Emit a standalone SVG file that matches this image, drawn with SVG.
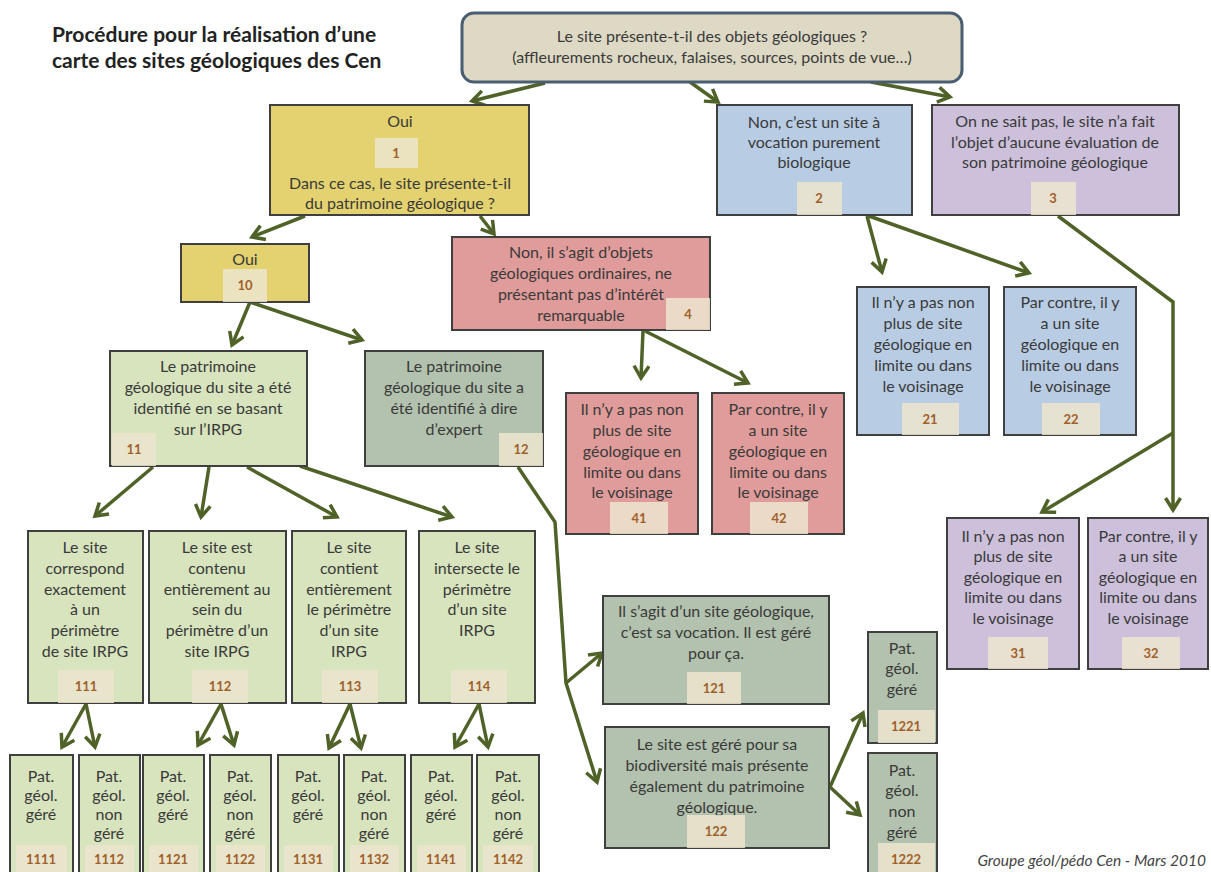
<svg xmlns="http://www.w3.org/2000/svg" width="1211" height="872" viewBox="0 0 1211 872">
<style>
.n{stroke:#3f3f3f;stroke-width:2}
.y{fill:#e3d26f}.r{fill:#e09c9a}.b{fill:#b8cce4}.p{fill:#ccc0da}.g{fill:#d7e4bd}.s{fill:#b3c2ae}
.nb{fill:#ece5cf;opacity:0.85}
text{font-family:Lato,"Open Sans","Liberation Sans",sans-serif}
.t{font-size:16px;fill:#3a3a3a;text-anchor:middle}
.num{font-size:13px;font-weight:bold;fill:#a0602a;text-anchor:middle}
.c{fill:none;stroke:#4f6228;stroke-width:3.5;marker-end:url(#ah)}
</style>
<defs>
<marker id="ah" markerUnits="userSpaceOnUse" markerWidth="22" markerHeight="18" viewBox="0 0 22 18" refX="14" refY="9" orient="auto">
<path d="M2,1.5 L14,9 L2,16.5" fill="none" stroke="#4f6228" stroke-width="3.5"/>
</marker>
</defs>
<rect width="1211" height="872" fill="#ffffff"/>
<g id="title">
<text x="52" y="42" style="font-size:21px;font-weight:bold;fill:#222">Procédure pour la réalisation d’une</text>
<text x="52" y="68" style="font-size:21px;font-weight:bold;fill:#222">carte des sites géologiques des Cen</text>
</g>
<g id="connectors">
<path class="c" d="M545,83 L472,101"/>
<path class="c" d="M690,82 L718,102"/>
<path class="c" d="M871,82 L950,97"/>
<path class="c" d="M305,216 L252,237"/>
<path class="c" d="M480,216 L494,234"/>
<path class="c" d="M250,302 L232,345"/>
<path class="c" d="M250,302 L362,340"/>
<path class="c" d="M867,216 L882,272"/>
<path class="c" d="M869,216 L1029,273"/>
<path class="c" d="M1058,216 L1173,302 L1173,510"/>
<path class="c" d="M1173,433 L1042,512"/>
<path class="c" d="M643,331 L641,378"/>
<path class="c" d="M645,331 L748,383"/>
<path class="c" d="M153,467 L95,516"/>
<path class="c" d="M209,467 L201,517"/>
<path class="c" d="M247,467 L337,517"/>
<path class="c" d="M300,466 L452,517"/>
<path class="c" d="M518,467 L555,522 L566,683 L597,782"/>
<path class="c" d="M566,683 L602,653"/>
<path class="c" d="M830,787 L863,713"/>
<path class="c" d="M830,787 L860,815"/>
<path class="c" d="M86,704 L62,747"/>
<path class="c" d="M86,704 L95,747"/>
<path class="c" d="M221,704 L198,745"/>
<path class="c" d="M221,704 L234,745"/>
<path class="c" d="M350,704 L329,748"/>
<path class="c" d="M350,704 L361,748"/>
<path class="c" d="M479,704 L455,747"/>
<path class="c" d="M479,704 L488,747"/>
</g>
<g id="top">
<rect x="462" y="13" width="500" height="69" rx="12" fill="#ddd9c4" stroke="#4a5e72" stroke-width="3"/>
<text class="t" x="712" y="42">Le site présente-t-il des objets géologiques ?</text>
<text class="t" x="712" y="63">(affleurements rocheux, falaises, sources, points de vue…)</text>
</g>
<g id="n1">
<rect class="n y" x="270" y="105" width="259" height="110"/>
<text class="t" x="400" y="127">Oui</text>
<rect class="nb" x="375" y="138" width="43" height="30"/>
<text class="num" x="396" y="158">1</text>
<text class="t" x="400" y="189">Dans ce cas, le site présente-t-il</text>
<text class="t" x="400" y="209">du patrimoine géologique ?</text>
</g>
<g id="n2">
<rect class="n b" x="717" y="105" width="195" height="110"/>
<text class="t" x="814" y="128">Non, c’est un site à</text>
<text class="t" x="814" y="148">vocation purement</text>
<text class="t" x="814" y="168">biologique</text>
<rect class="nb" x="797" y="182" width="45" height="33"/>
<text class="num" x="819" y="203">2</text>
</g>
<g id="n3">
<rect class="n p" x="932" y="105" width="247" height="110"/>
<text class="t" x="1055" y="127">On ne sait pas, le site n’a fait</text>
<text class="t" x="1055" y="148">l’objet d’aucune évaluation de</text>
<text class="t" x="1055" y="168">son patrimoine géologique</text>
<rect class="nb" x="1031" y="182" width="45" height="33"/>
<text class="num" x="1053" y="203">3</text>
</g>
<g id="n10">
<rect class="n y" x="181" y="244" width="128" height="58"/>
<text class="t" x="245" y="265">Oui</text>
<rect class="nb" x="223" y="269" width="44" height="33"/>
<text class="num" x="245" y="290">10</text>
</g>
<g id="n4">
<rect class="n r" x="452" y="237" width="258" height="93"/>
<rect class="nb" x="666" y="298" width="44" height="32"/>
<text class="t" x="581" y="258">Non, il s’agit d’objets</text>
<text class="t" x="581" y="279">géologiques ordinaires, ne</text>
<text class="t" x="581" y="300">présentant pas d’intérêt</text>
<text class="t" x="581" y="321">remarquable</text>
<text class="num" x="688" y="319">4</text>
</g>
<g id="n11">
<rect class="n g" x="110" y="351" width="197" height="115"/>
<text class="t" x="208" y="372">Le patrimoine</text>
<text class="t" x="208" y="393">géologique du site a été</text>
<text class="t" x="208" y="414">identifié en se basant</text>
<text class="t" x="208" y="435">sur l’IRPG</text>
<rect class="nb" x="112" y="433" width="44" height="33"/>
<text class="num" x="134" y="454">11</text>
</g>
<g id="n12">
<rect class="n s" x="365" y="351" width="178" height="115"/>
<text class="t" x="454" y="372">Le patrimoine</text>
<text class="t" x="454" y="393">géologique du site a</text>
<text class="t" x="454" y="414">été identifié à dire</text>
<text class="t" x="454" y="435">d’expert</text>
<rect class="nb" x="499" y="433" width="44" height="33"/>
<text class="num" x="521" y="454">12</text>
</g>
<g id="n21">
<rect class="n b" x="857" y="287" width="132" height="148"/>
<text class="t" x="923" y="308">Il n’y a pas non</text>
<text class="t" x="923" y="329">plus de site</text>
<text class="t" x="923" y="350">géologique en</text>
<text class="t" x="923" y="371">limite  ou dans</text>
<text class="t" x="923" y="392">le voisinage</text>
<rect class="nb" x="902" y="403" width="57" height="32"/>
<text class="num" x="930" y="424">21</text>
</g>
<g id="n22">
<rect class="n b" x="1004" y="287" width="132" height="148"/>
<text class="t" x="1070" y="308">Par contre, il y</text>
<text class="t" x="1070" y="329">a un site</text>
<text class="t" x="1070" y="350">géologique en</text>
<text class="t" x="1070" y="371">limite  ou dans</text>
<text class="t" x="1070" y="392">le voisinage</text>
<rect class="nb" x="1042" y="403" width="58" height="32"/>
<text class="num" x="1071" y="424">22</text>
</g>
<g id="n41">
<rect class="n r" x="566" y="393" width="132" height="141"/>
<text class="t" x="632" y="415">Il n’y a pas non</text>
<text class="t" x="632" y="436">plus de site</text>
<text class="t" x="632" y="457">géologique en</text>
<text class="t" x="632" y="478">limite  ou dans</text>
<text class="t" x="632" y="498">le voisinage</text>
<rect class="nb" x="610" y="502" width="58" height="32"/>
<text class="num" x="639" y="523">41</text>
</g>
<g id="n42">
<rect class="n r" x="712" y="393" width="132" height="141"/>
<text class="t" x="778" y="415">Par contre, il y</text>
<text class="t" x="778" y="436">a un site</text>
<text class="t" x="778" y="457">géologique en</text>
<text class="t" x="778" y="478">limite  ou dans</text>
<text class="t" x="778" y="498">le voisinage</text>
<rect class="nb" x="750" y="502" width="58" height="32"/>
<text class="num" x="779" y="523">42</text>
</g>
<g id="n31">
<rect class="n p" x="947" y="518" width="132" height="151"/>
<text class="t" x="1013" y="542">Il n’y a pas non</text>
<text class="t" x="1013" y="562">plus de site</text>
<text class="t" x="1013" y="583">géologique en</text>
<text class="t" x="1013" y="603">limite  ou dans</text>
<text class="t" x="1013" y="624">le voisinage</text>
<rect class="nb" x="988" y="637" width="60" height="32"/>
<text class="num" x="1018" y="658">31</text>
</g>
<g id="n32">
<rect class="n p" x="1088" y="518" width="120" height="151"/>
<text class="t" x="1148" y="542">Par contre, il y</text>
<text class="t" x="1148" y="562">a un site</text>
<text class="t" x="1148" y="583">géologique en</text>
<text class="t" x="1148" y="603">limite  ou dans</text>
<text class="t" x="1148" y="624">le voisinage</text>
<rect class="nb" x="1122" y="637" width="58" height="32"/>
<text class="num" x="1151" y="658">32</text>
</g>
<g id="n111">
<rect class="n g" x="28" y="531" width="115" height="172"/>
<text class="t" x="85" y="553">Le site</text>
<text class="t" x="85" y="574">correspond</text>
<text class="t" x="85" y="595">exactement</text>
<text class="t" x="85" y="615">à un</text>
<text class="t" x="85" y="636">périmètre</text>
<text class="t" x="85" y="657">de site IRPG</text>
<rect class="nb" x="58" y="670" width="56" height="33"/>
<text class="num" x="86" y="691">111</text>
</g>
<g id="n112">
<rect class="n g" x="149" y="531" width="137" height="172"/>
<text class="t" x="217" y="553">Le site est</text>
<text class="t" x="217" y="574">contenu</text>
<text class="t" x="217" y="595">entièrement au</text>
<text class="t" x="217" y="615">sein du</text>
<text class="t" x="217" y="636">périmètre d’un</text>
<text class="t" x="217" y="657">site IRPG</text>
<rect class="nb" x="192" y="670" width="56" height="33"/>
<text class="num" x="220" y="691">112</text>
</g>
<g id="n113">
<rect class="n g" x="292" y="531" width="114" height="172"/>
<text class="t" x="349" y="553">Le site</text>
<text class="t" x="349" y="574">contient</text>
<text class="t" x="349" y="595">entièrement</text>
<text class="t" x="349" y="615">le périmètre</text>
<text class="t" x="349" y="636">d’un site</text>
<text class="t" x="349" y="657">IRPG</text>
<rect class="nb" x="322" y="670" width="56" height="33"/>
<text class="num" x="350" y="691">113</text>
</g>
<g id="n114">
<rect class="n g" x="419" y="531" width="116" height="172"/>
<text class="t" x="477" y="553">Le site</text>
<text class="t" x="477" y="574">intersecte le</text>
<text class="t" x="477" y="595">périmètre</text>
<text class="t" x="477" y="615">d’un site</text>
<text class="t" x="477" y="636">IRPG</text>
<rect class="nb" x="451" y="670" width="56" height="33"/>
<text class="num" x="479" y="691">114</text>
</g>
<g id="n121">
<rect class="n s" x="603" y="596" width="226" height="108"/>
<text class="t" x="716" y="617">Il s’agit d’un site géologique,</text>
<text class="t" x="716" y="638">c’est sa vocation. Il est géré</text>
<text class="t" x="716" y="659">pour ça.</text>
<rect class="nb" x="687" y="672" width="54" height="32"/>
<text class="num" x="714" y="693">121</text>
</g>
<g id="n122">
<rect class="n s" x="605" y="727" width="224" height="121"/>
<text class="t" x="717" y="750">Le site est géré pour sa</text>
<text class="t" x="717" y="771">biodiversité mais présente</text>
<text class="t" x="717" y="792">également du patrimoine</text>
<text class="t" x="717" y="813">géologique.</text>
<rect class="nb" x="687" y="815" width="58" height="33"/>
<text class="num" x="716" y="836">122</text>
</g>
<g id="n1221">
<rect class="n s" x="868" y="632" width="69" height="111"/>
<text class="t" x="902" y="654">Pat.</text>
<text class="t" x="902" y="674">géol.</text>
<text class="t" x="902" y="695">géré</text>
<rect class="nb" x="878" y="710" width="57" height="33"/>
<text class="num" x="906" y="731">1221</text>
</g>
<g id="n1222">
<rect class="n s" x="868" y="753" width="69" height="122"/>
<text class="t" x="902" y="776">Pat.</text>
<text class="t" x="902" y="796">géol.</text>
<text class="t" x="902" y="817">non</text>
<text class="t" x="902" y="838">géré</text>
<rect class="nb" x="878" y="843" width="57" height="32"/>
<text class="num" x="906" y="864">1222</text>
</g>
<g id="n1111">
<rect class="n g" x="10" y="755" width="63" height="120"/>
<text class="t" x="41" y="782">Pat.</text><text class="t" x="41" y="801">géol.</text><text class="t" x="41" y="820">géré</text>
<rect class="nb" x="16" y="845" width="51" height="30"/><text class="num" x="41" y="864">1111</text>
</g>
<g id="n1112">
<rect class="n g" x="79" y="755" width="61" height="120"/>
<text class="t" x="109" y="782">Pat.</text><text class="t" x="109" y="801">géol.</text><text class="t" x="109" y="820">non</text><text class="t" x="109" y="839">géré</text>
<rect class="nb" x="85" y="845" width="49" height="30"/><text class="num" x="109" y="864">1112</text>
</g>
<g id="n1121">
<rect class="n g" x="143" y="755" width="61" height="120"/>
<text class="t" x="173" y="782">Pat.</text><text class="t" x="173" y="801">géol.</text><text class="t" x="173" y="820">géré</text>
<rect class="nb" x="149" y="845" width="49" height="30"/><text class="num" x="173" y="864">1121</text>
</g>
<g id="n1122">
<rect class="n g" x="210" y="755" width="61" height="120"/>
<text class="t" x="240" y="782">Pat.</text><text class="t" x="240" y="801">géol.</text><text class="t" x="240" y="820">non</text><text class="t" x="240" y="839">géré</text>
<rect class="nb" x="216" y="845" width="49" height="30"/><text class="num" x="240" y="864">1122</text>
</g>
<g id="n1131">
<rect class="n g" x="278" y="755" width="61" height="120"/>
<text class="t" x="308" y="782">Pat.</text><text class="t" x="308" y="801">géol.</text><text class="t" x="308" y="820">géré</text>
<rect class="nb" x="284" y="845" width="49" height="30"/><text class="num" x="308" y="864">1131</text>
</g>
<g id="n1132">
<rect class="n g" x="344" y="755" width="61" height="120"/>
<text class="t" x="374" y="782">Pat.</text><text class="t" x="374" y="801">géol.</text><text class="t" x="374" y="820">non</text><text class="t" x="374" y="839">géré</text>
<rect class="nb" x="350" y="845" width="49" height="30"/><text class="num" x="374" y="864">1132</text>
</g>
<g id="n1141">
<rect class="n g" x="411" y="755" width="61" height="120"/>
<text class="t" x="441" y="782">Pat.</text><text class="t" x="441" y="801">géol.</text><text class="t" x="441" y="820">géré</text>
<rect class="nb" x="417" y="845" width="49" height="30"/><text class="num" x="441" y="864">1141</text>
</g>
<g id="n1142">
<rect class="n g" x="477" y="755" width="62" height="120"/>
<text class="t" x="508" y="782">Pat.</text><text class="t" x="508" y="801">géol.</text><text class="t" x="508" y="820">non</text><text class="t" x="508" y="839">géré</text>
<rect class="nb" x="483" y="845" width="50" height="30"/><text class="num" x="508" y="864">1142</text>
</g>
<g id="footer">
<text x="1206" y="866" text-anchor="end" style="font-size:15.5px;font-style:italic;fill:#444">Groupe géol/pédo Cen - Mars 2010</text>
</g>
</svg>
